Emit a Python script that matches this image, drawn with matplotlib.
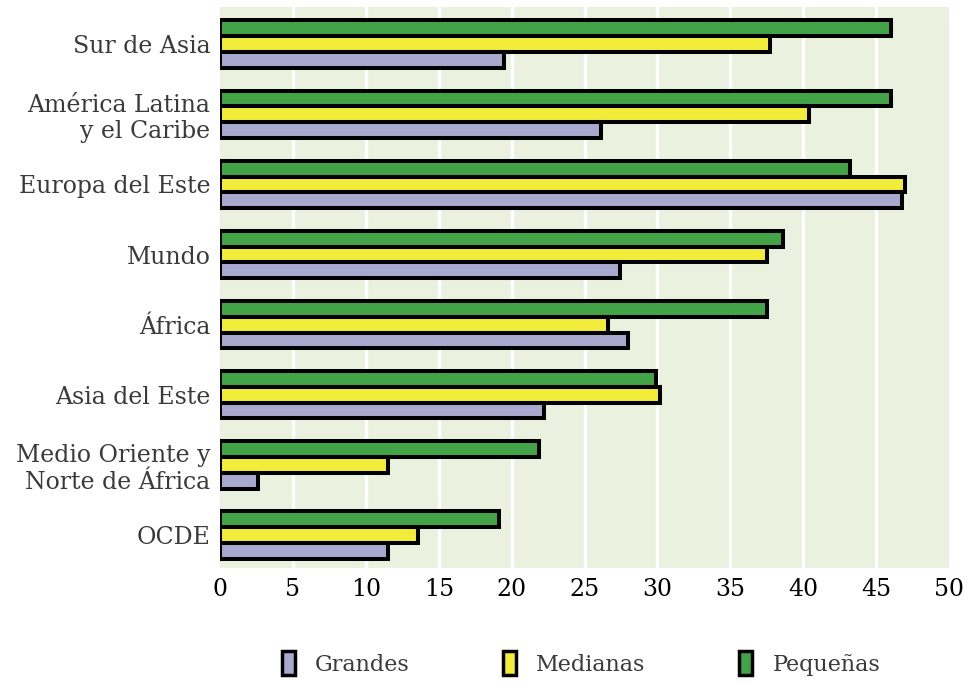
#!/usr/bin/env python

import numpy as np
import matplotlib.pyplot as plt
from matplotlib.patches import Patch

categories = ["Sur de Asia", "América Latina\ny el Caribe", "Europa del Este", "Mundo",
              "África", "Asia del Este", "Medio Oriente y\nNorte de África", "OCDE"]
pequenas = [46.0, 46.0, 43.2, 38.6, 37.5, 29.9, 21.9, 19.1]
medianas = [37.7, 40.4, 47.0, 37.5, 26.6, 30.2, 11.5, 13.6]
grandes = [19.5, 26.1, 46.8, 27.4, 28.0, 22.2, 2.6, 11.5]
series_names = ["Grandes", "Medianas", "Pequeñas"]
xticks = [0, 5, 10, 15, 20, 25, 30, 35, 40, 45, 50]

colors = {"Grandes": "#a9a8ce", "Medianas": "#f2ec3a", "Pequeñas": "#43a447"}
text_color = "#3a3a3a"
font = "DejaVu Serif"


def main():
	fig = plt.figure(figsize=(9.68, 6.84), dpi=100)
	ax = fig.add_axes([0.2273, 0.1696, 0.7531, 0.8202])
	ax.set_facecolor("#eaf2df")

	y = np.arange(len(categories))
	h = 0.225
	lw = 2.9
	for off, vals, name in [(-h, pequenas, "Pequeñas"), (0, medianas, "Medianas"), (h, grandes, "Grandes")]:
		ax.barh(y + off, vals, height=h, color=colors[name], edgecolor="black",
				linewidth=lw, zorder=3)

	ax.set_xlim(0, 50)
	ax.set_ylim(7.47, -0.53)
	ax.set_xticks(xticks)
	ax.set_xticklabels([str(t) for t in xticks], fontsize=17, family=font, color="black")
	ax.set_yticks(y)
	ax.set_yticklabels(categories, fontsize=17, family=font, color=text_color, linespacing=1.2)
	ax.tick_params(length=0, pad=7)
	for t in xticks[1:-1]:
		ax.axvline(t, color="white", linewidth=2.4, zorder=1)
	for s in ax.spines.values():
		s.set_visible(False)

	handles = [Patch(facecolor=colors[n], edgecolor="black", linewidth=2.5) for n in series_names]
	leg = fig.legend(handles, series_names, loc="center", bbox_to_anchor=(0.6, 0.03), ncol=3,
					 frameon=False, handlelength=0.6, handleheight=1.3, columnspacing=4.2,
					 handletextpad=0.9, prop={"family": font, "size": 16})
	for t in leg.get_texts():
		t.set_color(text_color)

	fig.savefig("out.png", dpi=100)


if __name__ == "__main__":
	main()
